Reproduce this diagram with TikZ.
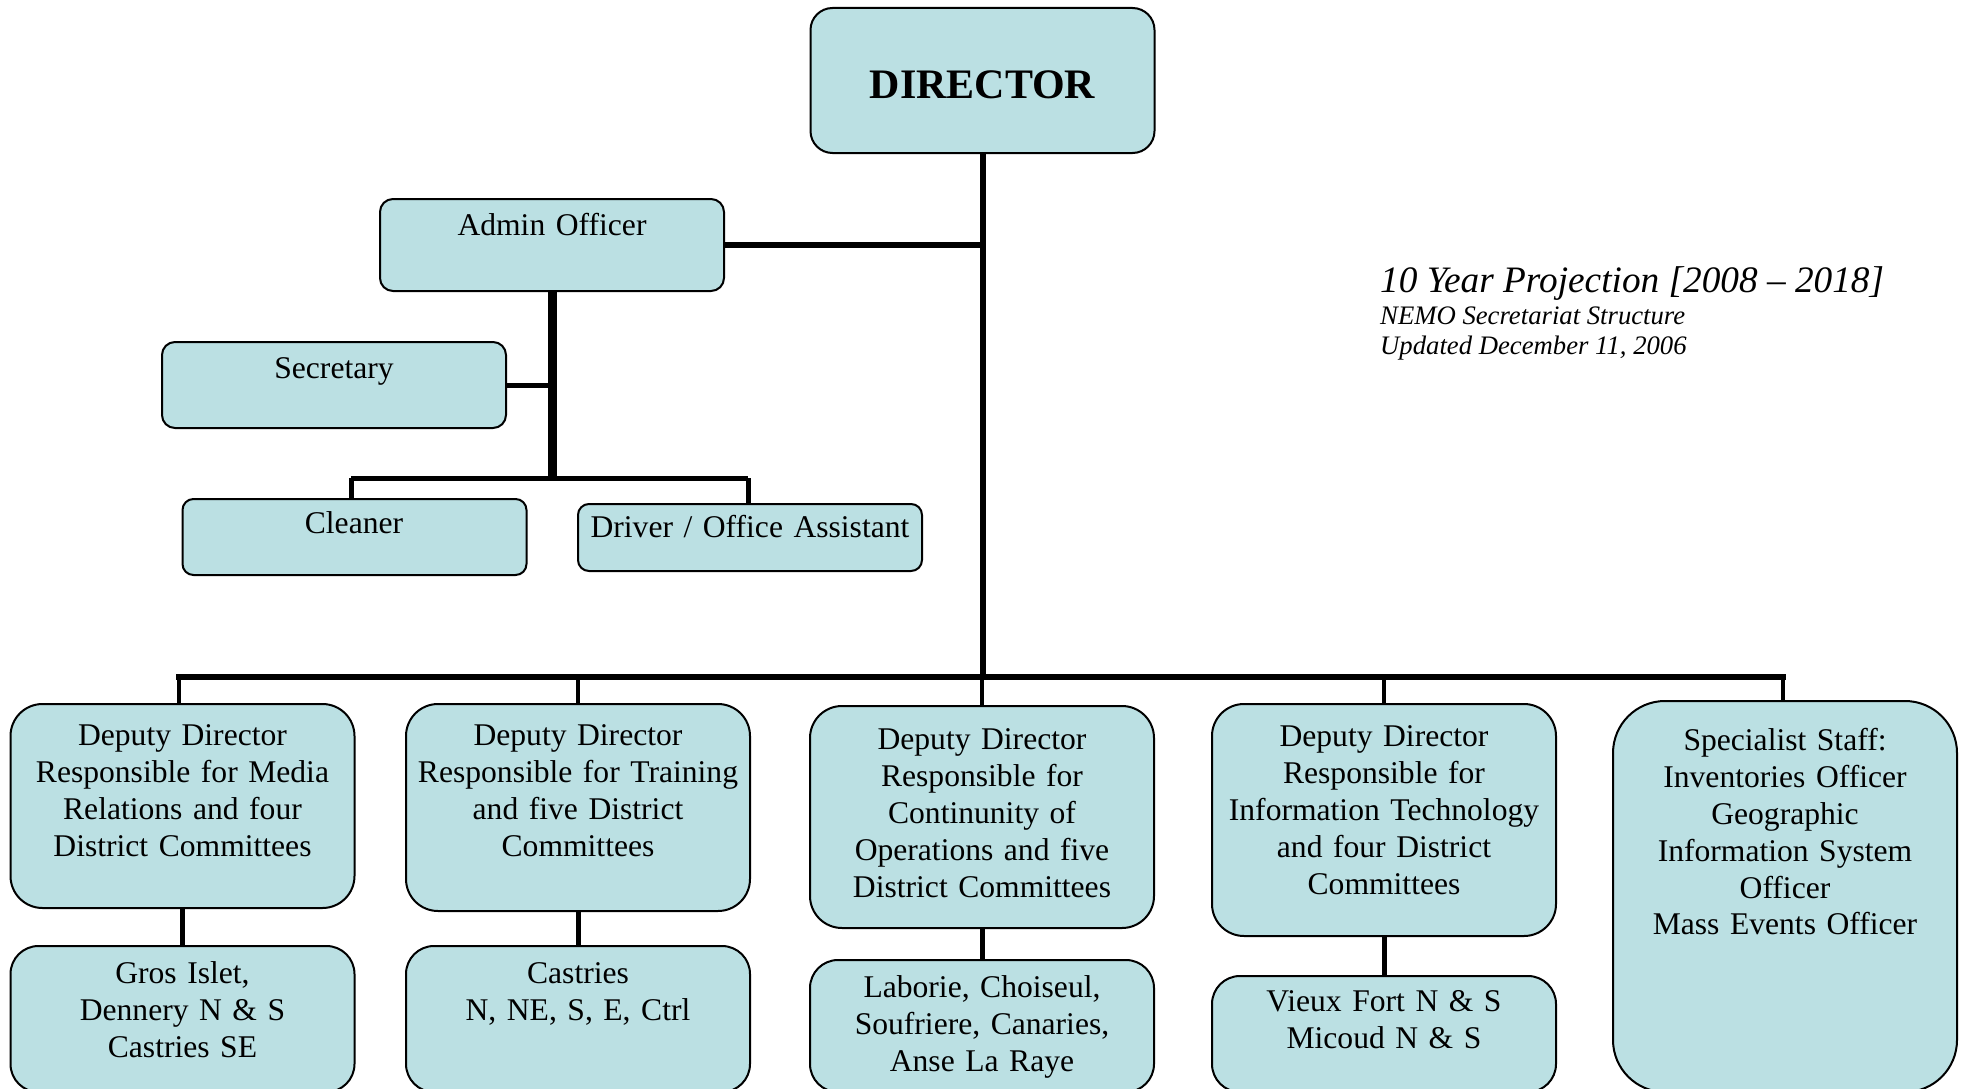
\documentclass[tikz,border=0pt]{standalone}
\usepackage{fontspec}
\setmainfont{Liberation Serif}
\definecolor{boxblue}{RGB}{187,224,227}
\tikzset{
  x=1pt,y=-1pt,
  box/.style={draw=black,fill=boxblue,line width=2pt,inner sep=0pt,minimum width=344pt},
  txt/.style={anchor=north,inner sep=0pt,align=center,text width=340pt,font=\fontsize{31.6}{36.8}\selectfont},
  conn/.style={draw=black,line width=#1},
  conn/.default=5pt
}
\begin{document}
\begin{tikzpicture}
\useasboundingbox (0,0) rectangle (1967,1089);
% boxes
\node[box,rounded corners=22pt,minimum height=145pt] (director) at (982.5,80.5) {};
\node[box,rounded corners=13pt,minimum height=92pt] (admin) at (552,245) {};
\node[box,rounded corners=13pt,minimum height=86pt] (secretary) at (334,385) {};
\node[box,rounded corners=11pt,minimum height=76pt] (cleaner) at (354.5,537) {};
\node[box,rounded corners=11pt,minimum height=67pt] (driver) at (750,537.5) {};
\node[box,rounded corners=32pt,minimum height=204pt] (d1) at (182.5,806) {};
\node[box,rounded corners=32pt,minimum height=207pt] (d2) at (578,807.5) {};
\node[box,rounded corners=32pt,minimum height=222pt] (d3) at (982,817) {};
\node[box,rounded corners=32pt,minimum height=232pt] (d4) at (1384,820) {};
\node[box,rounded corners=52pt,minimum height=391pt] (d5) at (1785,896.5) {};
\node[box,rounded corners=28pt,minimum height=146pt] (b1) at (182.5,1019) {};
\node[box,rounded corners=28pt,minimum height=146pt] (b2) at (578,1019) {};
\node[box,rounded corners=28pt,minimum height=132pt] (b3) at (982,1026) {};
\node[box,rounded corners=28pt,minimum height=116pt] (b4) at (1384,1034) {};
% texts
\node[anchor=base,inner sep=0pt,font=\fontsize{42}{48}\selectfont\bfseries] (tdir) at (982.5,99) {DIRECTOR};
\node[txt] (tadmin) at (552,210) {\strut Admin Officer};
\node[txt] (tsec) at (334,353) {\strut Secretary};
\node[txt] (tclean) at (354,508) {\strut Cleaner};
\node[txt] (tdriver) at (750,512) {\strut Driver / Office Assistant};
\node[txt] (td1) at (182.5,720) {\strut Deputy Director\\Responsible for Media\\Relations and four\\District Committees};
\node[txt] (td2) at (578,720) {\strut Deputy Director\\Responsible for Training\\and five District\\Committees};
\node[txt] (td3) at (982,724) {\strut Deputy Director\\Responsible for\\Continunity of\\Operations and five\\District Committees};
\node[txt] (td4) at (1384,721) {\strut Deputy Director\\Responsible for\\Information Technology\\and four District\\Committees};
\node[txt] (td5) at (1785,725) {\strut Specialist Staff:\\Inventories Officer\\Geographic\\Information System\\Officer\\Mass Events Officer};
\node[txt] (tb1) at (182.5,958) {\strut Gros Islet,\\Dennery N \& S\\Castries SE};
\node[txt] (tb2) at (578,958) {\strut Castries\\N, NE, S, E, Ctrl};
\node[txt] (tb3) at (982,972) {\strut Laborie, Choiseul,\\Soufriere, Canaries,\\Anse La Raye};
\node[txt] (tb4) at (1384,986) {\strut Vieux Fort N \& S\\Micoud N \& S};
\node[anchor=base west,inner sep=0pt,font=\fontsize{37.3}{42}\selectfont\itshape] (title) at (1380,292) {10 Year Projection [2008 – 2018]};
\node[anchor=base west,inner sep=0pt,font=\fontsize{26.7}{30}\selectfont\itshape] (sub1) at (1380,324) {NEMO Secretariat Structure};
\node[anchor=base west,inner sep=0pt,font=\fontsize{26.7}{30}\selectfont\itshape] (sub2) at (1380,354) {Updated December 11, 2006};
% connectors
\coordinate (bbar) at (981,677);
\coordinate (abar) at (549,478);
\coordinate (bl) at (179,677);
\coordinate (br) at (1783,677);
\coordinate (al) at (351,478);
\coordinate (ar) at (748,478);
\draw[conn=6pt] (director.south) -- (director.south |- bbar);
\draw[conn=6pt] (admin.east) -- (admin.east -| director.south);
\draw[conn=9pt] (admin.south) -- (admin.south |- abar);
\draw[conn=5pt] (secretary.east) -- (secretary.east -| admin.south);
\draw[conn=5pt] (al) -- (ar);
\draw[conn=5pt] (al) -- (al |- cleaner.north);
\draw[conn=5pt] (ar) -- (ar |- driver.north);
\draw[conn=6pt,line cap=rect] (bl) -- (br);
\draw[conn=4.5pt] (bl) -- (bl |- d1.north);
\draw[conn=4.5pt] (br) -- (br |- d5.north);
\foreach \n in {d2,d3,d4} \draw[conn=4.5pt] (\n.north |- bbar) -- (\n.north);
\draw[conn=5pt] (d1.south) -- (b1.north);
\draw[conn=5pt] (d2.south) -- (b2.north);
\draw[conn=5pt] (d3.south) -- (b3.north);
\draw[conn=5pt] (d4.south) -- (b4.north);
\end{tikzpicture}
\end{document}
